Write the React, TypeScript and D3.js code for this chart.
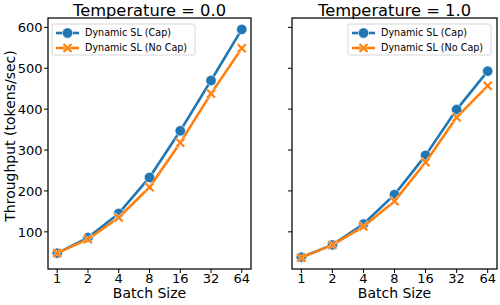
import React from 'react';
import * as d3 from 'd3';

const batchSizes = ['1', '2', '4', '8', '16', '32', '64'];
const titles = ['Temperature = 0.0', 'Temperature = 1.0'];
const seriesNames = ['Dynamic SL (Cap)', 'Dynamic SL (No Cap)'];
const yTicks = [100, 200, 300, 400, 500, 600];

// temperature 0.0
const capT0 = [48, 86, 145, 233, 347, 470, 595];
const noCapT0 = [48, 82, 135, 209, 318, 438, 549];
// temperature 1.0
const capT1 = [38, 68, 119, 191, 287, 399, 493];
const noCapT1 = [37, 68, 113, 175, 270, 380, 457];

const colors = ['#1f77b4', '#ff7f0e'];
const font = 'DejaVu Sans, sans-serif';

const panels = [
    { title: titles[0], series: [capT0, noCapT0], left: 48, right: 251, showY: true, legendX: 52 },
    { title: titles[1], series: [capT1, noCapT1], left: 292, right: 497, showY: false, legendX: 348 },
];

const top = 18;
const bottom = 269;

const all = [capT0, noCapT0, capT1, noCapT1].flat();
const yMin = d3.min(all)!;
const yMax = d3.max(all)!;
const pad = (yMax - yMin) * 0.05;
const y = d3.scaleLinear().domain([yMin - pad, yMax + pad]).range([bottom, top]);

const Marker = ({ kind, cx, cy, color }: { kind: number; cx: number; cy: number; color: string }) => {
    if (kind === 0) {
        return <circle cx={cx} cy={cy} r={5.2} fill={color} stroke="#fff" strokeWidth={0.6} />;
    }
    const s = 5;
    const w = 1.8;
    // filled "X"
    const d = `M${-s},${-s + w} L${-s + w},${-s} L0,${-w} L${s - w},${-s} L${s},${-s + w} L${w},0 L${s},${s - w} L${s - w},${s} L0,${w} L${-s + w},${s} L${-s},${s - w} L${-w},0 Z`;
    return <path d={d} transform={`translate(${cx},${cy})`} fill={color} stroke="#fff" strokeWidth={0.5} />;
};

const Panel = ({ p }: { p: typeof panels[number] }) => {
    const n = batchSizes.length;
    const x = d3.scaleLinear().domain([-0.05 * (n - 1), (n - 1) * 1.05]).range([p.left, p.right]);
    const line = d3.line<number>().x((_, i) => x(i)).y(d => y(d));
    return (
        <g>
            {p.series.map((s, k) => (
                <g key={k}>
                    <path d={line(s)!} fill="none" stroke={colors[k]} strokeWidth={2.6} strokeLinejoin="round" />
                    {s.map((v, i) => <Marker key={i} kind={k} cx={x(i)} cy={y(v)} color={colors[k]} />)}
                </g>
            ))}
            <rect x={p.left} y={top} width={p.right - p.left} height={bottom - top} fill="none" stroke="#000" strokeWidth={1.25} />
            {batchSizes.map((b, i) => (
                <g key={b}>
                    <line x1={x(i)} x2={x(i)} y1={bottom} y2={bottom + 4} stroke="#000" strokeWidth={1} />
                    <text x={x(i)} y={bottom + 14} textAnchor="middle" fontSize={13} fontFamily={font}>{b}</text>
                </g>
            ))}
            {yTicks.map(t => (
                <g key={t}>
                    <line x1={p.left - 4} x2={p.left} y1={y(t)} y2={y(t)} stroke="#000" strokeWidth={1} />
                    {p.showY && (
                        <text x={p.left - 5.5} y={y(t) + 4.7} textAnchor="end" fontSize={13} fontFamily={font}>{t}</text>
                    )}
                </g>
            ))}
            <text x={(p.left + p.right) / 2} y={top - 2.5} textAnchor="middle" fontSize={16.3} fontFamily={font}>{p.title}</text>
            <text x={(p.left + p.right) / 2} y={bottom + 29} textAnchor="middle" fontSize={14} fontFamily={font}>Batch Size</text>
            <g transform={`translate(${p.legendX},24)`}>
                <rect x={0} y={0} width={143} height={31} rx={2} fill="#fff" fillOpacity={0.8} stroke="#ccc" strokeWidth={0.8} />
                {seriesNames.map((name, k) => (
                    <g key={name} transform={`translate(0,${9 + k * 15})`}>
                        <line x1={4} x2={27} y1={0} y2={0} stroke={colors[k]} strokeWidth={2.6} />
                        <Marker kind={k} cx={15.5} cy={0} color={colors[k]} />
                        <text x={33} y={3.4} fontSize={9.6} fontFamily={font}>{name}</text>
                    </g>
                ))}
            </g>
        </g>
    );
};

export default function App() {
    return (
        <svg width={500} height={305} style={{ position: 'absolute', left: 0, top: 0 }}>
            <rect width={500} height={305} fill="#fff" />
            {panels.map(p => <Panel key={p.title} p={p} />)}
            <text transform={`translate(15,136) rotate(-90)`} textAnchor="middle" fontSize={14} fontFamily={font}>
                Throughput (tokens/sec)
            </text>
        </svg>
    );
}
